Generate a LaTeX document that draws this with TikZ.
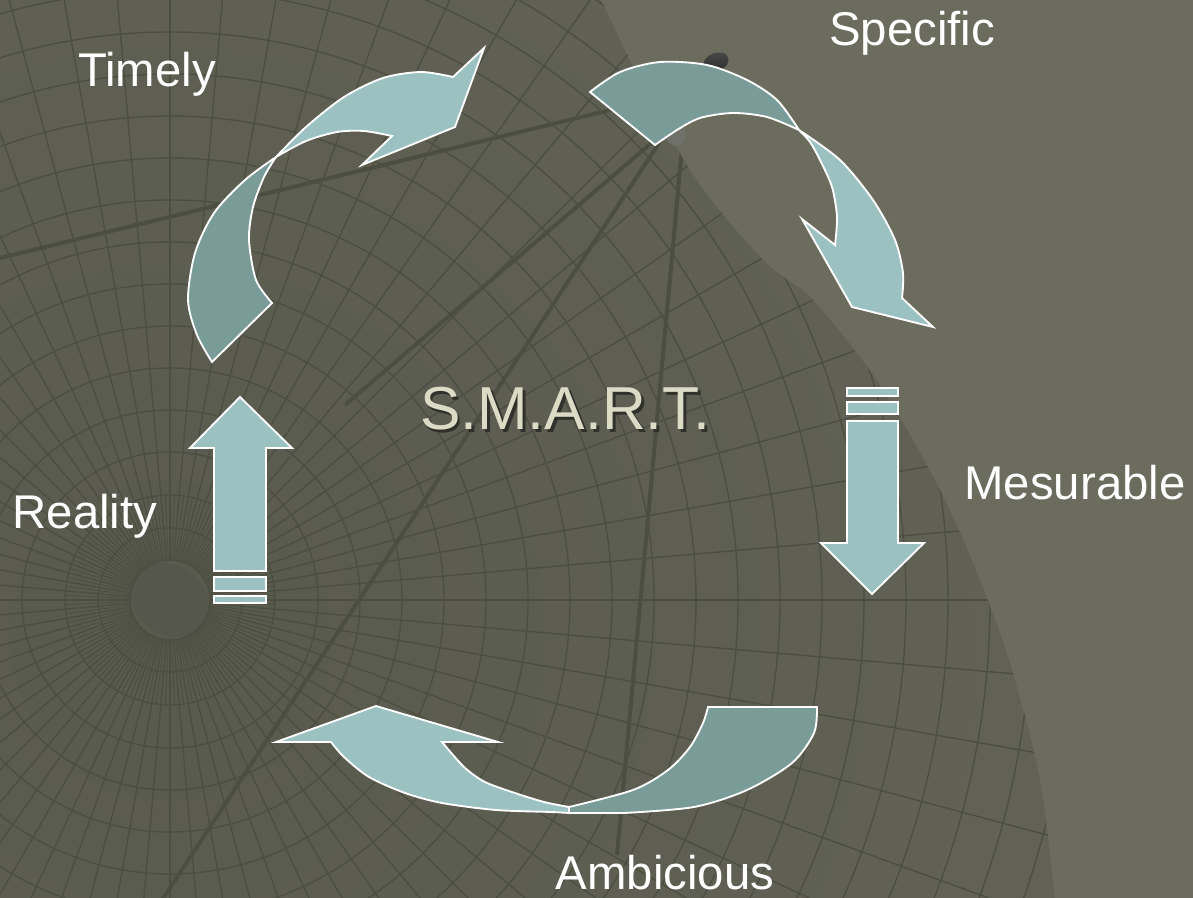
\documentclass[tikz,border=0pt]{standalone}
\usepackage{fontspec}
\setmainfont{Liberation Sans}
\definecolor{bgmain}{HTML}{6B6C5E}
\definecolor{globein}{HTML}{595A4E}
\definecolor{globeout}{HTML}{67685A}
\definecolor{gridc}{HTML}{4D4E42}
\definecolor{polec}{HTML}{56574C}
\definecolor{arrlight}{HTML}{9BC2C0}
\definecolor{arrdark}{HTML}{7A9C98}
\definecolor{smartc}{HTML}{DBDBC6}
\definecolor{smartsh}{HTML}{30312A}
\definecolor{pivotc}{HTML}{6F7068}
\newcommand\lblfont{\fontsize{35.5}{40}\selectfont}
\newcommand\bigfont{\fontsize{45.5}{52}\selectfont}
\newcommand\smarttext{S.M.A.R.T.}
\begin{document}
\begin{tikzpicture}[x=0.75pt,y=-0.75pt,
  gridline/.style={draw=gridc, line width=1pt},
  thickline/.style={draw=gridc, line width=3pt},
  lightpart/.style={fill=arrlight, draw=white, line width=1.4pt, line join=miter},
  darkpart/.style={fill=arrdark, draw=white, line width=1.4pt, line join=miter},
  lbl/.style={text=white, font=\lblfont, anchor=base, inner sep=0pt},
  smartlbl/.style={font=\bigfont, anchor=base, inner sep=0pt}]
\useasboundingbox (0,0) rectangle (1193,898);
% background
\fill[bgmain] (0,0) rectangle (1193,898);
\begin{scope}
  \clip (0,-2) -- plot[smooth] coordinates {(600,-2) (650,100) (700,185) (765,262) (813,300) (880,385) (940,490) (980,580) (1012,670) (1040,780) (1055,900)} -- (0,900) -- cycle;
  \shade[inner color=globein, outer color=globeout] (170,640) circle[radius=1500];
  \fill[polec, rotate around={-35:(170,600)}] (170,600) ellipse [x radius=42, y radius=34];
  \foreach \a in {0,5,...,355} {\draw[gridline] (170,600) ++(\a:40) -- ++(\a:1400);}
  \foreach \a in {2.5,7.5,...,357.5} {\draw[gridline, line width=0.6pt] (170,600) ++(\a:40) -- ++(\a:65);}
  \foreach \r in {40,72,105,148,190,232,274,316,358,400,442,484,526,568,610,652,694,736,778,820,862,904,946,988,1030,1072,1114} {\draw[gridline] (170,600) circle[radius=\r];}
  \draw[thickline] (0,258) -- (660,98);
  \draw[thickline] (662,134) -- (345,405);
  \draw[thickline] (661,140) -- (162,900);
  \draw[thickline] (683,137) -- (617,855);
\end{scope}
% pivot and knob
\fill[pivotc] (676,136) circle[radius=10];
\shade[top color=gray!55!black, bottom color=gray!35!black, rotate around={20:(716,62)}] (716,62) ellipse [x radius=13, y radius=9];
% Timely arrow
\filldraw[darkpart] (212,362) -- plot[smooth] coordinates {(212,362) (197,335) (188,300) (195,253) (214,213) (245,180) (276,157)} -- plot[smooth] coordinates {(276,157) (264,177) (253,207) (249,240) (256,280) (272,303)} -- cycle;
\filldraw[lightpart] (276,157) -- plot[smooth] coordinates {(276,157) (306,127) (344,97) (383,78) (421,72) (453,77)} -- (484,48) -- (455,127) -- (362,165) -- (392,136) -- plot[smooth] coordinates {(392,136) (364,131) (337,132) (306,141) (276,157)} -- cycle;
% Specific arrow
\filldraw[darkpart] (590,92) -- plot[smooth] coordinates {(590,92) (620,72) (660,62) (707,65) (747,80) (777,100) (799,130)} -- plot[smooth] coordinates {(799,130) (767,117) (733,113) (700,118) (677,130) (655,145)} -- cycle;
\filldraw[lightpart] (799,130) -- plot[smooth] coordinates {(799,130) (840,160) (873,200) (895,240) (903,273) (902,298)} -- (933,327) -- (852,307) -- (802,219) -- (835,245) -- plot[smooth] coordinates {(835,245) (837,217) (832,187) (820,160) (810,142) (799,130)} -- cycle;
% Mesurable arrow
\filldraw[lightpart] (847,388) rectangle (898,396);
\filldraw[lightpart] (847,402) rectangle (898,414);
\filldraw[lightpart] (847,421) -- (898,421) -- (898,543) -- (924,543) -- (872,594) -- (821,543) -- (847,543) -- cycle;
% Ambicious arrow
\filldraw[lightpart] (276,742) -- (376,706) -- (498,742) -- (442,742) -- plot[smooth] coordinates {(442,742) (464,767) (485,782) (515,793) (544,802) (569,807)} -- (569,813) -- plot[smooth] coordinates {(569,813) (551,812) (496,810) (442,803) (405,793) (369,777) (344,757) (331,742)} -- cycle;
\filldraw[darkpart] (569,807) -- plot[smooth] coordinates {(569,807) (633,790) (668,770) (690,747) (703,723) (708,707)} -- (817,707) -- plot[smooth] coordinates {(817,707) (814,733) (792,763) (747,790) (694,807) (624,813)} -- (569,813) -- cycle;
% Reality arrow
\filldraw[lightpart] (240,397) -- (292,448) -- (266,448) -- (266,571) -- (214,571) -- (214,448) -- (190,448) -- cycle;
\filldraw[lightpart] (214,577) rectangle (266,591);
\filldraw[lightpart] (214,596) rectangle (266,603);
% labels
\node[lbl] (specific) at (912,46) {Specific};
\node[lbl] (timely) at (147,87) {Timely};
\node[lbl] (mesurable) at (1075,500) {Mesurable};
\node[lbl] (reality) at (85,528) {Reality};
\node[lbl] (ambicious) at (665,889) {Ambicious};
\node[smartlbl, text=smartc] (smart) at (565,430) {\rlap{\kern2.2pt\raisebox{-2.2pt}{\textcolor{smartsh}{\smarttext}}}\smarttext};
\end{tikzpicture}
\end{document}
